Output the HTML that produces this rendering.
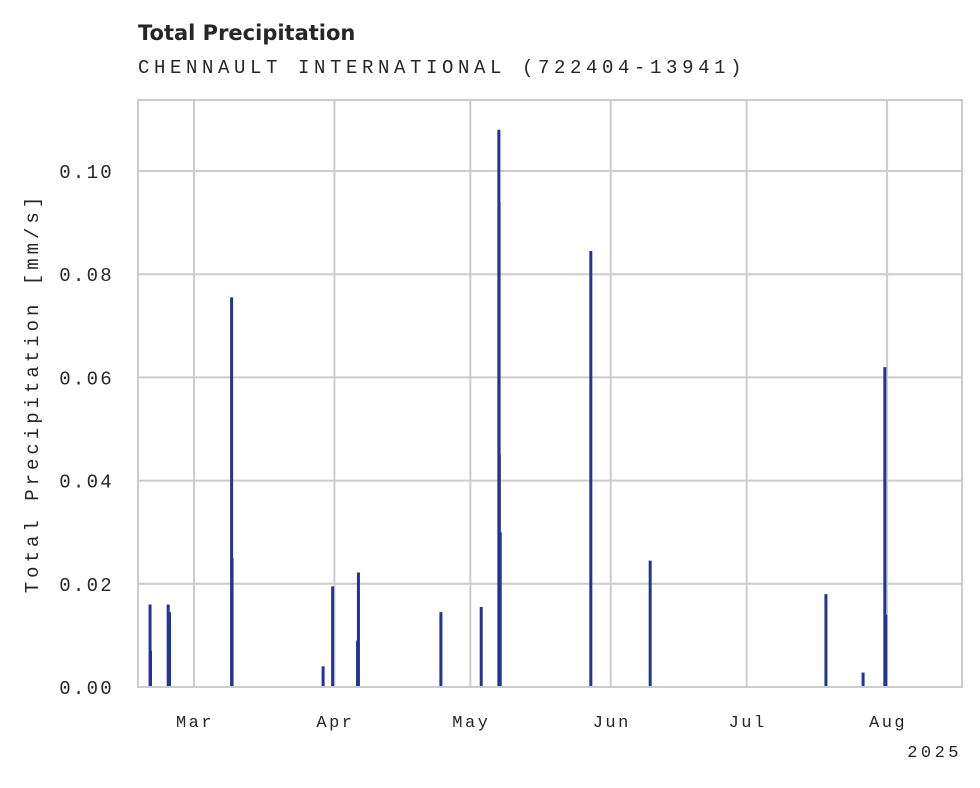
<!DOCTYPE html>
<html><head><meta charset="utf-8"><style>
body{margin:0;background:#fff;}
svg text{fill:#262626;}
</style></head><body>
<svg width="980" height="783" xmlns="http://www.w3.org/2000/svg">
<text x="138" y="40" font-family="DejaVu Sans, sans-serif" font-weight="bold" font-size="21">Total Precipitation</text>
<text x="138" y="73" font-family="Liberation Mono, monospace" font-size="19" letter-spacing="4.6">CHENNAULT INTERNATIONAL (722404-13941)</text>
<g id="grid"></g>
<g id="marks"></g>
<rect x="138" y="100" width="824" height="587" fill="none" stroke="#cccccc" stroke-width="2"/>
<text transform="translate(38,393) rotate(-90)" text-anchor="middle" font-family="Liberation Mono, monospace" font-size="19" letter-spacing="4">Total Precipitation [mm/s]</text>
<text x="962" y="757" text-anchor="end" font-family="Liberation Mono, monospace" font-size="17" letter-spacing="3.5">2025</text>
</svg>
<script>
const yTicks=[0,0.02,0.04,0.06,0.08,0.10];
const yTickLabels=["0.00","0.02","0.04","0.06","0.08","0.10"];
const monthDays=[60,91,121,152,182,213];
const monthLabels=["Mar","Apr","May","Jun","Jul","Aug"];
const eventDays=[50.3,50.4,54.3,54.6,68.3,68.4,88.5,90.6,96.1,96.3,114.5,123.4,127.3,127.35,127.4,127.6,147.6,160.7,199.5,207.7,212.5,212.7];
const eventValues=[0.016,0.007,0.016,0.0145,0.0755,0.025,0.004,0.0195,0.009,0.0222,0.0145,0.0155,0.108,0.094,0.045,0.03,0.0845,0.0245,0.018,0.0028,0.062,0.014];
const NS="http://www.w3.org/2000/svg";
const xs=d=>194+(d-60)*4.53;
const ys=v=>687-v*5160;
const grid=document.getElementById('grid'),marks=document.getElementById('marks');
function mk(t,a,p){const e=document.createElementNS(NS,t);for(const k in a)e.setAttribute(k,a[k]);p.appendChild(e);return e;}
yTicks.forEach((v,i)=>{
 const l=mk('line',{x1:138,x2:962,y1:ys(v),y2:ys(v),stroke:'#cccccc','stroke-width':2},grid);
 
 
 const t=mk('text',{x:114,y:ys(v)+7,'text-anchor':'end','font-family':'Liberation Mono, monospace','font-size':19,'letter-spacing':2.3},grid);
 t.textContent=yTickLabels[i];
 
 
});
monthDays.forEach((d,i)=>{
 const l=mk('line',{x1:xs(d),x2:xs(d),y1:100,y2:687,stroke:'#cccccc','stroke-width':2},grid);
 
 
 const t=mk('text',{x:xs(d)+1,y:727,'text-anchor':'middle','font-family':'Liberation Mono, monospace','font-size':17,'letter-spacing':2.5},grid);
 t.textContent=monthLabels[i];
 
 
});
eventDays.forEach((d,i)=>{
 const l=mk('line',{x1:xs(d),x2:xs(d),y1:687,y2:ys(eventValues[i]),stroke:'#233494','stroke-width':3},marks);
 
 
});
</script>
</body></html>
